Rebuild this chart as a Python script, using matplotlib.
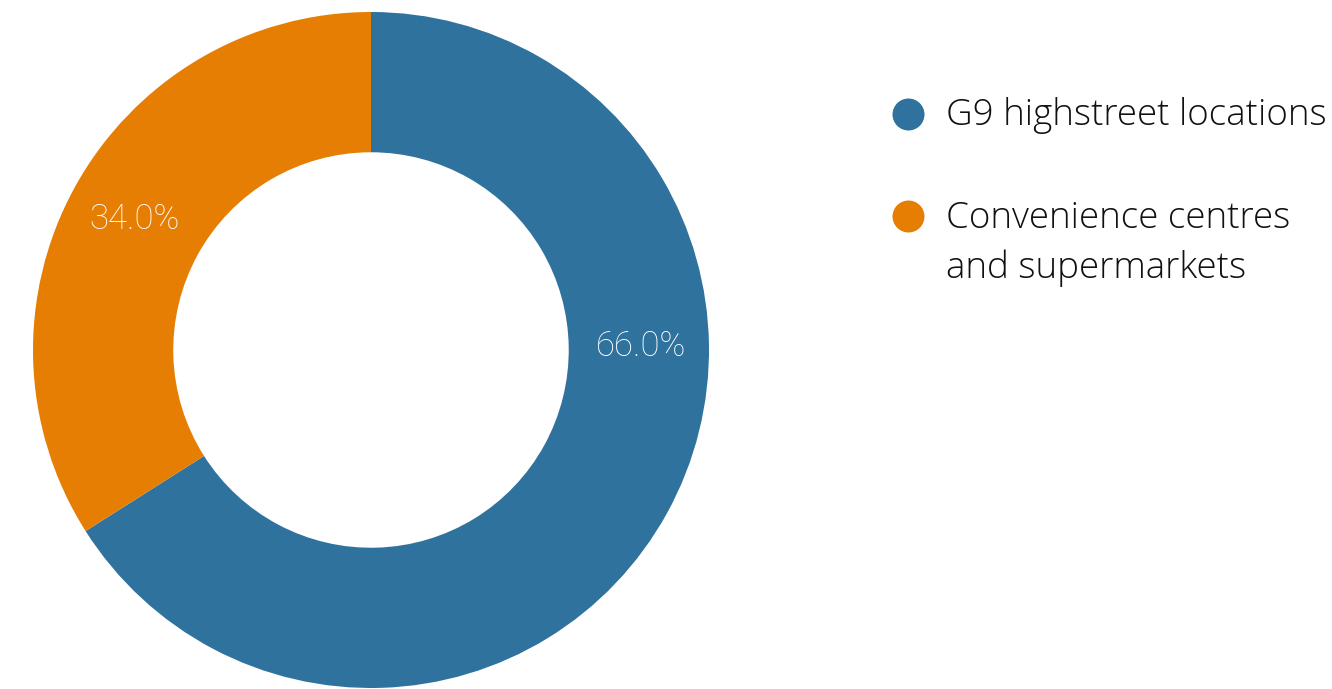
import matplotlib.pyplot as plt

categories = ["G9 highstreet locations", "Convenience centres\nand supermarkets"]
shares = [66.0, 34.0]
colors = ["#2E729D", "#E67E04"]

W, H = 1332, 689
fig = plt.figure(figsize=(W / 100, H / 100), dpi=100)

# donut: centre (371, 350) px, outer radius 338 px
cx, cy, r = 371, 350, 338
ax = fig.add_axes([(cx - r) / W, (H - cy - r) / H, 2 * r / W, 2 * r / H])
wedges, _, autotexts = ax.pie(
    shares, colors=colors, startangle=90, counterclock=False,
    radius=1.0, wedgeprops=dict(width=0.415, linewidth=0),
    autopct="%.1f%%", pctdistance=0.80,
    textprops=dict(color="white", fontsize=25, family="Roboto", fontweight="light"),
)
# the larger slice's label sits level with the centre
autotexts[0].set_position((0.80, 0.01))
ax.set_xlim(-1, 1)
ax.set_ylim(-1, 1)
ax.set_aspect("equal")
ax.axis("off")

# legend drawn by hand
leg = fig.add_axes([0, 0, 1, 1], facecolor="none")
leg.set_xlim(0, W)
leg.set_ylim(H, 0)
leg.axis("off")
marker_y = [114, 216]
for cat, col, y in zip(categories, colors, marker_y):
    leg.scatter([908], [y], s=530, color=col, linewidths=0)
    for i, line in enumerate(cat.split("\n")):
        leg.text(946, y + 2 + i * 50, line, fontsize=26.5, family="Open Sans",
                 fontweight="light", color="#111111", va="center", ha="left")

fig.savefig("out.png", dpi=100)
